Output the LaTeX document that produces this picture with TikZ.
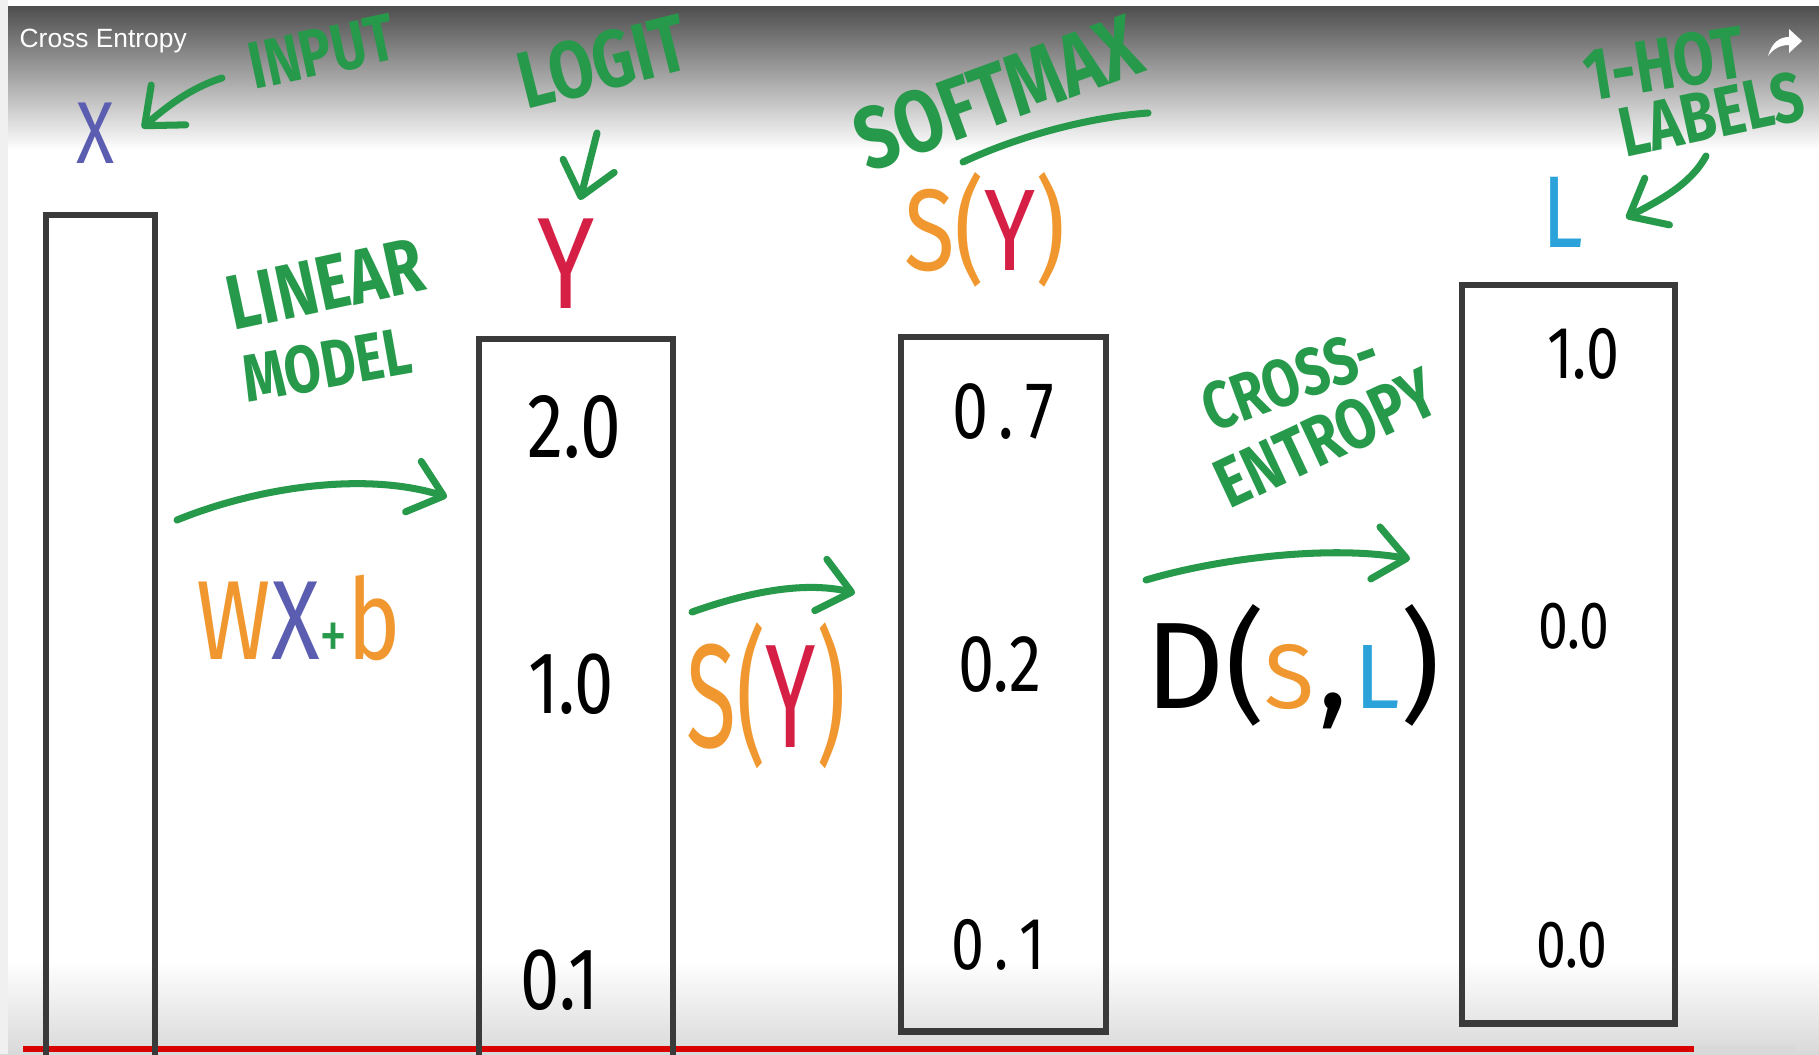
\documentclass[tikz,border=0pt]{standalone}
\usepackage{fontspec}
\setmainfont{Fira Sans}
\newfontfamily\handn[FakeStretch=0.8]{Fira Sans}
\newfontfamily\handc[FakeStretch=0.62]{Fira Sans}
\newfontfamily\uifont{Liberation Sans}
\usetikzlibrary{arrows.meta}
\definecolor{mkgreen}{HTML}{27994B}
\definecolor{mkorange}{HTML}{F0982F}
\definecolor{mkpurple}{HTML}{5B5DB0}
\definecolor{mkred}{HTML}{D61F45}
\definecolor{mkblue}{HTML}{2BA3DA}
\definecolor{boxgray}{HTML}{3A3A3A}
\definecolor{bargray}{HTML}{4E4E4E}
\newcommand{\fsz}[1]{\fontsize{#1}{#1}\selectfont}
\begin{document}
\begin{tikzpicture}[x=0.01cm,y=-0.01cm,
  box/.style={draw=boxgray, line width=1.8pt, rectangle, inner sep=0pt, anchor=north west},
  num/.style={text=black, inner sep=0pt},
  glabel/.style={text=mkgreen, inner sep=0pt},
  garrow/.style={draw=mkgreen, line width=2pt, line cap=round, -{Straight Barb[length=9pt,width=15pt,round]}},
  gstroke/.style={draw=mkgreen, line width=2pt, line cap=round}]
\useasboundingbox (0,0) rectangle (1819,1054);
\clip (0,0) rectangle (1819,1054);
% background
\fill[white] (0,0) rectangle (1819,1054);
\shade[top color=bargray, bottom color=white] (0,6) rectangle (1819,150);
\shade[top color=white, bottom color=black!15] (0,960) rectangle (1819,1054);
\fill[black!6] (0,0) rectangle (8,1054);
% title and share icon
\node[anchor=west, text=white, font=\uifont\fsz{7.5}, inner sep=0pt] (title) at (19,41) {Cross Entropy};
\fill[white] (1768,56) .. controls (1772,42) and (1780,37) .. (1789,37) -- (1789,29) -- (1802,41) -- (1789,53) -- (1789,45) .. controls (1781,45) and (1774,48) .. (1768,56) -- cycle;
% progress bar
\fill[black!15] (23,1046) rectangle (1796,1052);
\fill[red!85!black] (23,1046) rectangle (1694,1052);

% boxes
\node[box, minimum width=1.09cm, minimum height=9cm] (bx) at (43,212) {};
\node[box, minimum width=1.94cm, minimum height=9cm] (by) at (476,336) {};
\node[box, minimum width=2.05cm, minimum height=6.94cm] (bs) at (898,334) {};
\node[box, minimum width=2.13cm, minimum height=7.38cm] (bl) at (1459,282) {};

% numbers
\node[num, font=\handn\fsz{26}] (y1) at (574,427) {2.0};
\node[num, font=\handn\fsz{25}] (y2) at (571,684) {1.0};
\node[num, font=\handn\fsz{25}] (y3) at (560,980) {0.1};
\node[num, font=\handn\fsz{23}] (s1) at (1003,412) {0\kern3pt.\kern3pt7};
\node[num, font=\handn\fsz{23}] (s2) at (1000,665) {0.2};
\node[num, font=\handn\fsz{21}] (s3) at (998,945) {0\kern3pt.\kern3pt1};
\node[num, font=\handn\fsz{21}] (l1) at (1583,354) {1.0};
\node[num, font=\handn\fsz{19}] (l2) at (1574,626) {0.0};
\node[num, font=\handn\fsz{19}] (l3) at (1572,945) {0.0};

% symbols above boxes
\node[text=mkpurple, font=\handn\fsz{25}, inner sep=0pt] (X) at (95,133) {X};
\node[text=mkred, font=\handn\fsz{37}, inner sep=0pt] (Y) at (566,264) {Y};
\node[font=\handn\fsz{33}, inner sep=0pt] (SY) at (985,230) {\textcolor{mkorange}{S(}\textcolor{mkred}{Y}\textcolor{mkorange}{)}};
\node[text=mkblue, font=\handn\fsz{29}, inner sep=0pt] (L) at (1563,212) {L};

% green labels
\node[glabel, font=\handn\bfseries\fsz{19}, rotate=12] (input) at (322,52) {INPUT};
\node[glabel, font=\handn\bfseries\fsz{23}, rotate=14] (logit) at (603,62) {LOGIT};
\node[glabel, font=\handn\bfseries\fsz{25}, rotate=20] (softmax) at (998,93) {SOFTMAX};
\node[glabel, font=\handn\bfseries\fsz{21}, rotate=9] (onehot) at (1664,64) {1-HOT};
\node[glabel, font=\handn\bfseries\fsz{20}, rotate=12] (labels) at (1712,114) {LABELS};
\node[glabel, font=\handn\bfseries\fsz{22}, rotate=12] (linear) at (325,284) {LINEAR};
\node[glabel, font=\handn\bfseries\fsz{19}, rotate=10] (model) at (327,365) {MODEL};
\node[glabel, font=\handn\bfseries\fsz{19}, rotate=20] (cross) at (1290,380) {CROSS-};
\node[glabel, font=\handn\bfseries\fsz{20}, rotate=25] (entropy) at (1326,438) {ENTROPY};

% formulas
\node[font=\handn\fsz{32}, inner sep=0pt] (wxb) at (299,618) {\textcolor{mkorange}{W}\textcolor{mkpurple}{X}\textcolor{mkgreen}{\fsz{20}+}\textcolor{mkorange}{b}};
\node[font=\handc\fsz{42}, inner sep=0pt] (SYm) at (766,696) {\textcolor{mkorange}{S(}\textcolor{mkred}{Y}\textcolor{mkorange}{)}};
\node[font=\fsz{35}, inner sep=0pt] (D) at (1293,667) {D(\textcolor{mkorange}{\fsz{26}S}\kern1pt,\kern2pt\textcolor{mkblue}{\fsz{26}L})};

% arrows
\coordinate (inA) at (222,78);
\coordinate (inB) at (142,128);
\draw[garrow] (inA) .. controls (190,88) and (165,108) .. (inB);
\coordinate (lgA) at (597,133);
\coordinate (lgB) at (580,200);
\draw[garrow] (lgA) -- (lgB);
\coordinate (lbA) at (1706,156);
\coordinate (lbB) at (1626,218);
\draw[garrow] (lbA) .. controls (1690,185) and (1660,200) .. (lbB);
\coordinate (smA) at (963,162);
\coordinate (smB) at (1148,113);
\draw[gstroke] (smA) .. controls (1010,140) and (1080,118) .. (smB);
\coordinate (linA) at (177,520);
\coordinate (linB) at (447,497);
\draw[garrow] (linA) .. controls (250,490) and (360,470) .. (linB);
\coordinate (sfA) at (692,612);
\coordinate (sfB) at (855,593);
\draw[garrow] (sfA) .. controls (740,595) and (800,580) .. (sfB);
\coordinate (ceA) at (1146,580);
\coordinate (ceB) at (1410,559);
\draw[garrow] (ceA) .. controls (1220,558) and (1330,545) .. (ceB);
\end{tikzpicture}
\end{document}
